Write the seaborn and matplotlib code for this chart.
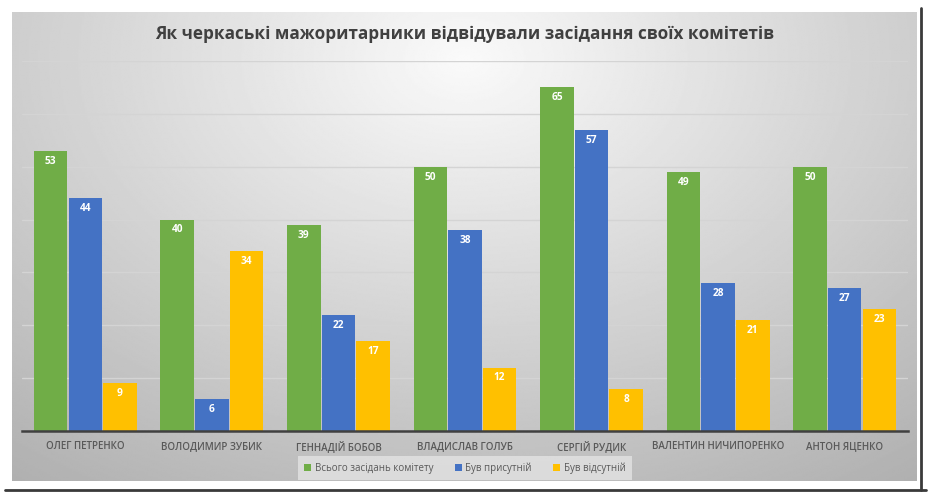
#!/usr/bin/env python3

import numpy as np
import pandas as pd
import matplotlib
matplotlib.use("Agg")
import matplotlib.pyplot as plt
from matplotlib.lines import Line2D
from matplotlib.patches import Patch
import seaborn as sns

# chart data
deputies = ["ОЛЕГ ПЕТРЕНКО", "ВОЛОДИМИР ЗУБИК", "ГЕННАДІЙ БОБОВ", "ВЛАДИСЛАВ ГОЛУБ",
            "СЕРГІЙ РУДИК", "ВАЛЕНТИН НИЧИПОРЕНКО", "АНТОН ЯЦЕНКО"]
total_meetings = [53, 40, 39, 50, 65, 49, 50]
present = [44, 6, 22, 38, 57, 28, 27]
absent = [9, 34, 17, 12, 8, 21, 23]
series_names = ["Всього засідань комітету", "Був присутній", "Був відсутній"]
colors = ["#70AD47", "#4472C4", "#FFC000"]

title = "Як черкаські мажоритарники відвідували засідання своїх комітетів"


def main():
    sns.set_style("white")
    plt.rcParams['font.family'] = ['Open Sans', 'DejaVu Sans']

    df = pd.DataFrame({
        "deputy": deputies * 3,
        "series": sum([[s] * len(deputies) for s in series_names], []),
        "value": total_meetings + present + absent,
    })

    W, H = 930, 496
    fig = plt.figure(figsize=(W / 100, H / 100), dpi=100)
    fig.patch.set_facecolor("white")

    # gray radial gradient panel
    bg = fig.add_axes([12 / W, 1 - 481 / H, (916 - 12) / W, (481 - 12) / H])
    yy, xx = np.mgrid[0:1:300j, 0:1:600j]
    r = np.sqrt(((xx - 0.5) / 0.75) ** 2 + ((yy - 0.1) / 1.0) ** 2)
    grad = np.clip(0.98 - 0.26 * r, 0, 1)
    bg.imshow(grad, cmap="gray", vmin=0, vmax=1, aspect="auto", interpolation="bilinear")
    bg.set_axis_off()

    # shadow lines of the frame
    fig.add_artist(Line2D([5 / W, 926 / W], [1 - 490 / H] * 2, color="#3a3a3a", lw=2))
    fig.add_artist(Line2D([921 / W] * 2, [1 - 8 / H, 1 - 490 / H], color="#3a3a3a", lw=2))

    ax = fig.add_axes([22 / W, 1 - 431 / H, 886 / W, 370 / H])
    ax.set_facecolor("none")
    sns.barplot(data=df, x="deputy", y="value", hue="series", palette=colors,
                width=0.82, gap=0.03, ax=ax, legend=False, saturation=1,
                linewidth=0, edgecolor="none", zorder=3)

    ax.set_ylim(0, 70)
    ax.set_xlim(-0.5, len(deputies) - 0.5)
    ax.set_yticks(np.arange(10, 71, 10))
    ax.yaxis.grid(True, color="#d4d4d4", lw=1, zorder=0)
    ax.set_axisbelow(True)
    ax.tick_params(axis="y", left=False, labelleft=False)
    ax.tick_params(axis="x", bottom=False, length=0, pad=11.5, labelsize=7,
                   labelcolor="#595959")
    for t in ax.get_xticklabels():
        t.set_va("center")
        t.set_fontweight("semibold")
    ax.set_xlabel("")
    ax.set_ylabel("")
    for side in ["top", "right", "left"]:
        ax.spines[side].set_visible(False)
    ax.spines["bottom"].set_color("#404040")
    ax.spines["bottom"].set_linewidth(1.8)
    ax.spines["bottom"].set_zorder(5)

    for cont in ax.containers:
        for bar in cont:
            h = bar.get_height()
            ax.annotate(f"{int(h)}", (bar.get_x() + bar.get_width() / 2, h),
                        xytext=(0, -7.5), textcoords="offset points",
                        ha="center", va="center", color="white",
                        fontsize=7.3, fontweight="bold", zorder=6)

    fig.text(0.5, 1 - 34 / H, title, ha="center", va="center",
             fontsize=12.3, fontweight="bold", color="#404040")

    handles = [Patch(facecolor=c, edgecolor="none") for c in colors]
    leg = fig.legend(handles, series_names, loc="center", ncol=3,
                     bbox_to_anchor=(465 / W, 1 - 468 / H), frameon=True,
                     fontsize=7, handlelength=0.7, handleheight=0.7,
                     handletextpad=0.4, columnspacing=2.2, borderpad=0.6)
    leg.get_frame().set_facecolor("#e3e3e3")
    leg.get_frame().set_edgecolor("none")
    leg.get_frame().set_boxstyle("square", pad=0.0)
    leg.get_frame().set_alpha(0.8)
    for t in leg.get_texts():
        t.set_color("#595959")

    fig.savefig("out.png", dpi=100)


if __name__ == "__main__":
    main()
